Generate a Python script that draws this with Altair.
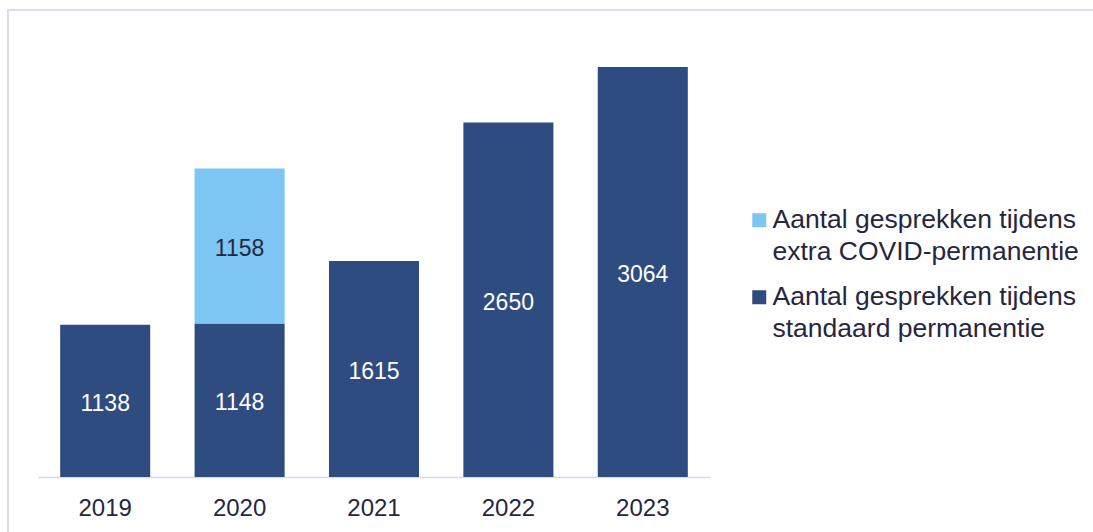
import altair as alt
import pandas as pd

years = ["2019", "2020", "2021", "2022", "2023"]
standard = [1138, 1148, 1615, 2650, 3064]
covid = [None, 1158, None, None, None]
series_std = "Aantal gesprekken tijdens standaard permanentie"
series_cov = "Aantal gesprekken tijdens extra COVID-permanentie"
dark = "#2f4c80"
light = "#7dc5f2"
text_dark = "#262640"
frame = "#dcdcef"

rows = []
for y, s, c in zip(years, standard, covid):
    rows.append({"year": y, "series": series_std, "value": s, "ord": 0})
    if c is not None:
        rows.append({"year": y, "series": series_cov, "value": c, "ord": 1})
df = pd.DataFrame(rows)

FONT = "Liberation Sans"

base = alt.Chart(df).transform_stack(
    stack="value", groupby=["year"], as_=["v0", "v1"], sort=[alt.SortField("ord")]
).transform_calculate(mid="(datum.v0 + datum.v1) / 2")

x = alt.X("year:N", sort=years,
          scale=alt.Scale(paddingInner=0.33, paddingOuter=0.165),
          axis=alt.Axis(title=None, labelAngle=0, labelFont=FONT, labelFontSize=24,
                        labelColor=text_dark, labelPadding=32, ticks=False,
                        domainColor="#d9d9ec", domainWidth=1.5, grid=False))

yscale = alt.Scale(domain=[0, 3438], nice=False, zero=True)

bars = base.mark_bar().encode(
    x=x,
    y=alt.Y("v0:Q", scale=yscale, axis=None),
    y2="v1:Q",
    color=alt.Color("series:N",
                    scale=alt.Scale(domain=[series_cov, series_std], range=[light, dark]),
                    legend=alt.Legend(title=None, orient="none", legendX=708, legendY=190,
                                      symbolType="square", symbolSize=196,
                                      symbolStrokeWidth=0, labelFont=FONT,
                                      labelFontSize=26.5, labelColor=text_dark,
                                      labelLimit=400, labelOffset=0, rowPadding=18,
                                      labelBaseline="top",
                                      labelExpr="[substring(datum.label, 0, 25), substring(datum.label, 26)]")),
)

labels = base.mark_text(font=FONT, fontSize=23, baseline="middle", dy=3).encode(
    x=alt.X("year:N", sort=years),
    y=alt.Y("mid:Q", scale=yscale),
    text=alt.Text("value:Q"),
    color=alt.Color("series:N",
                    scale=alt.Scale(domain=[series_cov, series_std], range=[text_dark, "#ffffff"]),
                    legend=None),
)

frame_left = alt.Chart(pd.DataFrame({"a": [0]})).mark_rule(color=frame, strokeWidth=2).encode(
    x=alt.value(-30), y=alt.value(-8), y2=alt.value(600))
frame_top = alt.Chart(pd.DataFrame({"a": [0]})).mark_rule(color=frame, strokeWidth=2).encode(
    x=alt.value(-31), x2=alt.value(1200), y=alt.value(-7))

chart = alt.layer(frame_left, frame_top, bars, labels).resolve_scale(color="independent").properties(
    width=672, height=460,
    autosize=alt.AutoSizeParams(type="none"),
    padding={"left": 38, "top": 17, "right": 383, "bottom": 55},
).configure(
    view=alt.ViewConfig(stroke=None),
    style={"guide-label": {"lineHeight": 32, "dy": -13}},
)

chart.save("out.html", embed_options={"renderer": "svg", "actions": False})
